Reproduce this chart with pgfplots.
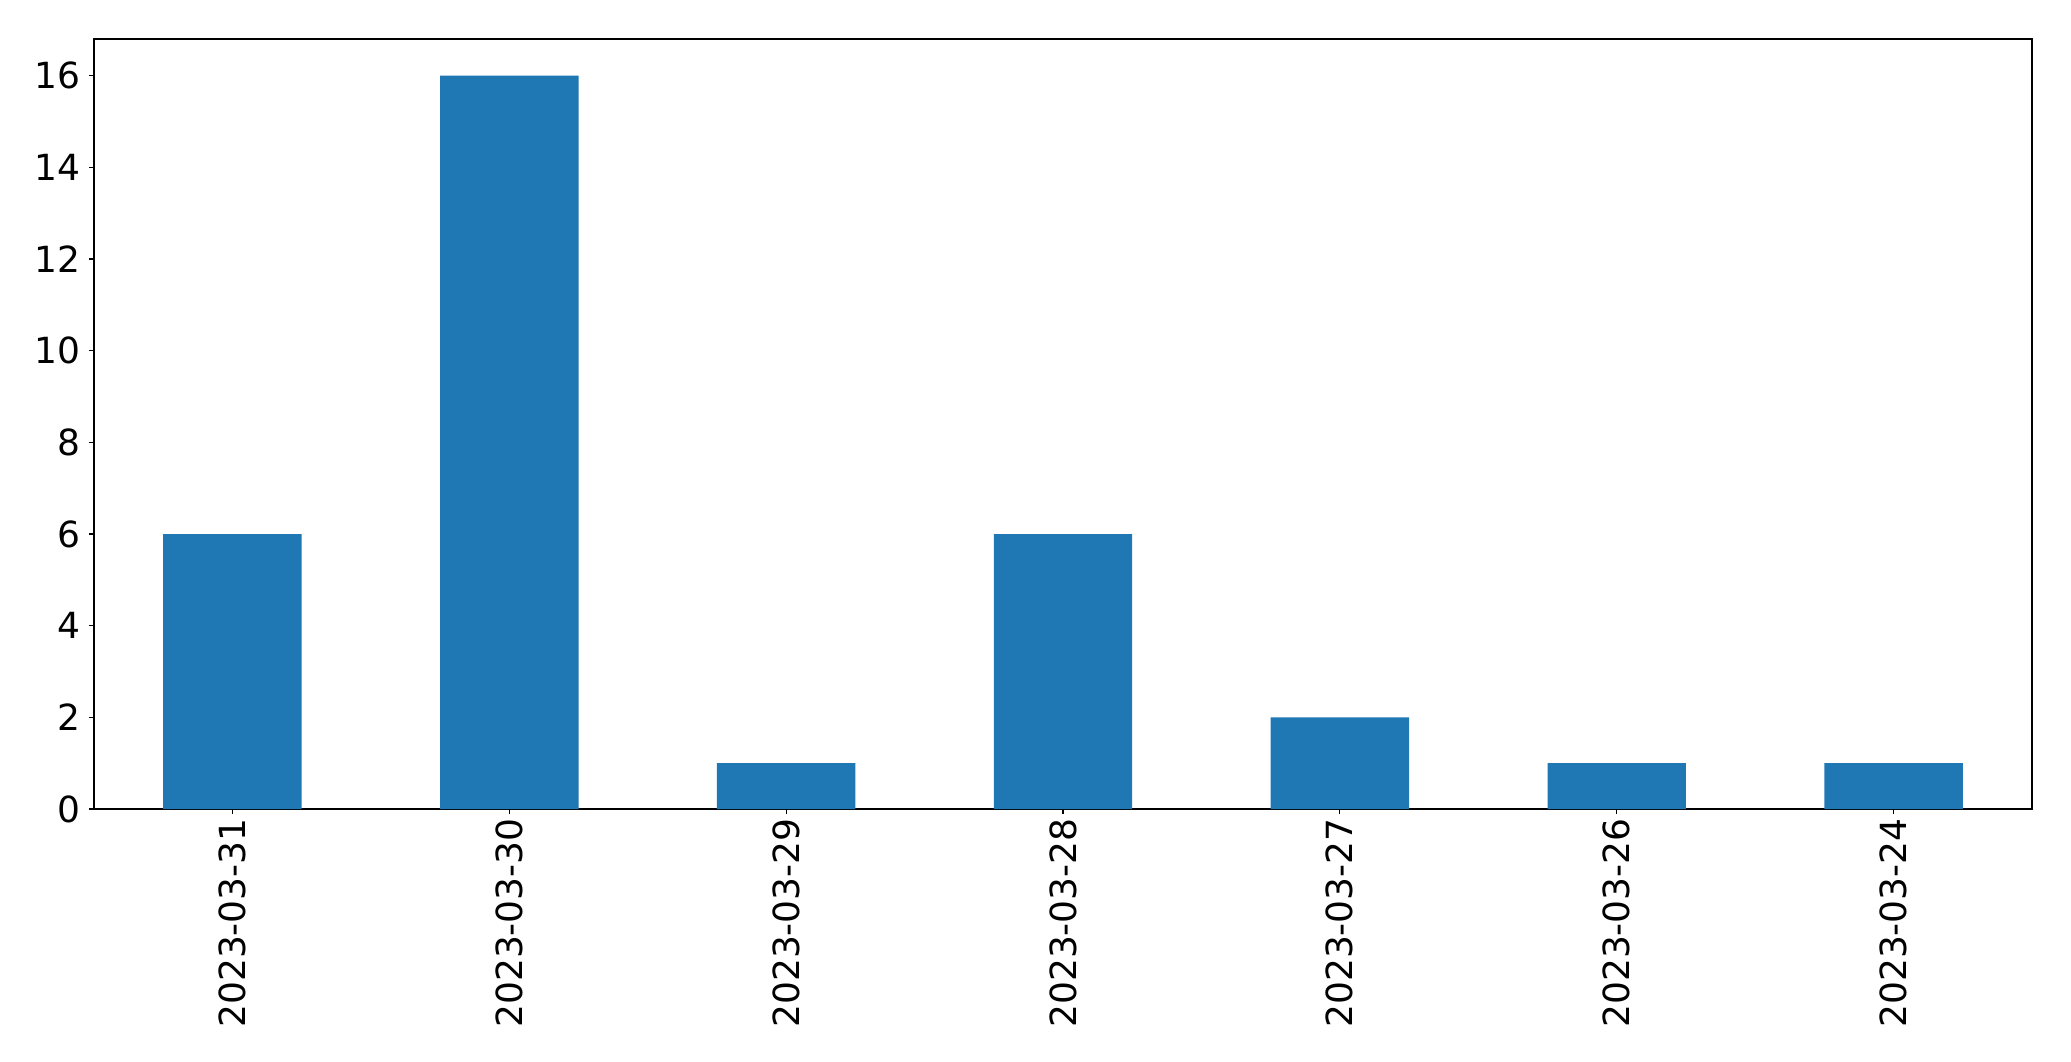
\documentclass[border=0pt]{standalone}
\usepackage{fontspec}
\setmainfont{DejaVu Sans}
\usepackage{pgfplots}
\pgfplotsset{compat=1.18}
\definecolor{mplblue}{HTML}{1F77B4}
\begin{document}
\begin{tikzpicture}[x=1pt,y=1pt]
\path[use as bounding box] (0,0) rectangle (1035.5,530.5);
\begin{axis}[
  at={(47pt,126pt)}, anchor=south west,
  scale only axis, width=969pt, height=385pt,
  xmin=-0.5, xmax=6.5, ymin=0, ymax=16.8,
  xtick={0,1,2,3,4,5,6},
  xticklabels={2023-03-31,2023-03-30,2023-03-29,2023-03-28,2023-03-27,2023-03-26,2023-03-24},
  ytick={0,2,4,6,8,10,12,14,16},
  tick align=outside, xtick pos=bottom, ytick pos=left,
  major tick length=2.5pt,
  tick style={black, line width=0.55pt},
  axis line style={black, line width=0.55pt},
  /pgf/number format/assume math mode=true,
  tick label style={font=\fontsize{18pt}{20pt}\selectfont, inner sep=0pt},
  xticklabel style={rotate=90, anchor=east},
  yticklabel style={anchor=east},
  xticklabel shift=2pt,
  yticklabel shift=4pt,
  clip=false,
]
\addplot[ybar, bar width=0.5, fill=mplblue, draw=none] coordinates {
  (0,6) (1,16) (2,1) (3,6) (4,2) (5,1) (6,1)
};
\end{axis}
\end{tikzpicture}
\end{document}
